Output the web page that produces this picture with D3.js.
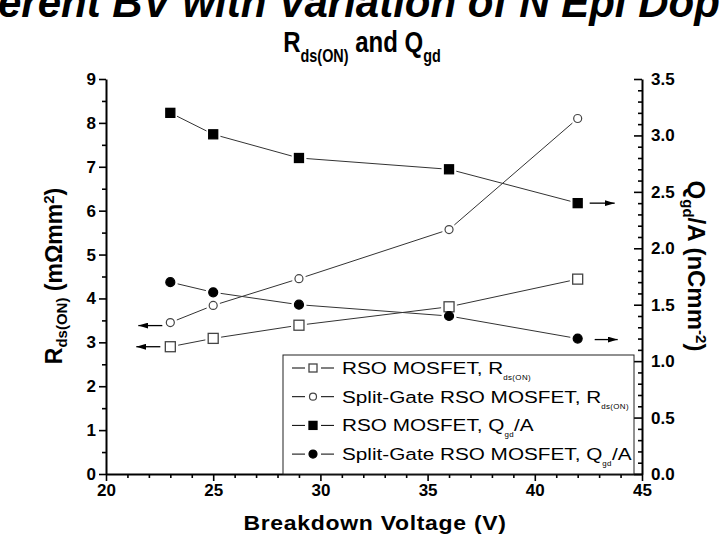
<!DOCTYPE html>
<html>
<head>
<meta charset="utf-8">
<script src="https://cdn.jsdelivr.net/npm/d3@7"></script>
<style>
  body { margin: 0; background: #fff; }
  svg { display: block; }
  text { font-family: "Liberation Sans", Arial, sans-serif; fill: #000; }
</style>
</head>
<body>
<div class="chart"></div>
<script>
  // values
  var bv = [23, 25, 29, 36, 42];
  var rsoRds = [2.90, 3.09, 3.39, 3.81, 4.44];
  var sgRds = [3.45, 3.84, 4.45, 5.57, 8.10];
  var rsoQgd = [3.20, 3.01, 2.80, 2.70, 2.40];
  var sgQgd = [1.70, 1.61, 1.50, 1.40, 1.20];

  var xTicks = [20, 25, 30, 35, 40, 45];
  var yLeftTicks = [0, 1, 2, 3, 4, 5, 6, 7, 8, 9];
  var yRightTicks = [0, 0.5, 1.0, 1.5, 2.0, 2.5, 3.0, 3.5];

  var width = 720, height = 535;
  var svg = d3.select(".chart").append("svg")
    .attr("width", width)
    .attr("height", height);

  var x = d3.scaleLinear().domain([20, 45]).range([106, 642]);
  var yL = d3.scaleLinear().domain([0, 9]).range([474, 79]);
  var yR = d3.scaleLinear().domain([0, 3.5]).range([474, 79]);

  // cropped slide heading
  var head = svg.append("text")
    .attr("y", 17)
    .style("font-size", "42px")
    .style("font-weight", "bold")
    .style("font-style", "italic")
    .text("Different BV with Variation of N Epi Doping");
  var off = head.node().getSubStringLength(0, 4);
  head.attr("x", -off - 2);

  // chart title
  var title = svg.append("text")
    .attr("transform", "translate(362,52) scale(0.8,1)")
    .attr("text-anchor", "middle")
    .style("font-size", "30px")
    .style("font-weight", "bold");
  title.append("tspan").text("R");
  title.append("tspan").attr("dy", 10).style("font-size", "18px").text("ds(ON)");
  title.append("tspan").attr("dy", -10).text(" and Q");
  title.append("tspan").attr("dy", 10).style("font-size", "18px").text("gd");

  // axes
  function styleAxis(g) {
    g.select(".domain").attr("stroke", "#000").attr("stroke-width", 2);
    g.selectAll(".tick line").attr("stroke", "#000").attr("stroke-width", 1.6);
    g.selectAll("text")
      .style("font-family", "'Liberation Sans', Arial, sans-serif")
      .style("font-size", "17px")
      .style("font-weight", "bold")
      .attr("fill", "#000");
  }

  svg.append("g").attr("transform", "translate(0,474)")
    .call(d3.axisBottom(x).tickValues(xTicks).tickSize(7).tickSizeOuter(0).tickPadding(3))
    .call(styleAxis);
  svg.append("g").attr("transform", "translate(0,474)")
    .call(d3.axisBottom(x).tickValues(d3.range(21, 45).filter(function(d) { return d % 5 !== 0; }))
      .tickSize(4).tickFormat(""))
    .call(styleAxis)
    .select(".domain").remove();

  svg.append("g").attr("transform", "translate(106,0)")
    .call(d3.axisLeft(yL).tickValues(yLeftTicks).tickSize(7).tickSizeOuter(0).tickPadding(3))
    .call(styleAxis);
  svg.append("g").attr("transform", "translate(106,0)")
    .call(d3.axisLeft(yL).tickValues(d3.range(0.5, 9, 1)).tickSize(4).tickFormat(""))
    .call(styleAxis)
    .select(".domain").remove();

  svg.append("g").attr("transform", "translate(642,0)")
    .call(d3.axisRight(yR).tickValues(yRightTicks).tickSize(-8).tickSizeOuter(0).tickPadding(9)
      .tickFormat(d3.format(".1f")))
    .call(styleAxis);
  svg.append("g").attr("transform", "translate(642,0)")
    .call(d3.axisRight(yR).tickValues(d3.range(1, 35).filter(function(d) { return d % 5 !== 0; })
      .map(function(d) { return d / 10; })).tickSize(-4).tickFormat(""))
    .call(styleAxis)
    .select(".domain").remove();

  // axis titles
  svg.append("text")
    .attr("transform", "translate(375,530) scale(1.15,1)")
    .attr("text-anchor", "middle")
    .style("font-size", "20px").style("font-weight", "bold")
    .style("letter-spacing", "0.6px")
    .text("Breakdown Voltage (V)");

  var lt = svg.append("text")
    .attr("transform", "translate(62,276) rotate(-90)")
    .attr("text-anchor", "middle")
    .style("font-size", "23px").style("font-weight", "bold");
  lt.append("tspan").text("R");
  lt.append("tspan").attr("baseline-shift", "-30%").style("font-size", "15px").text("ds(ON)");
  lt.append("tspan").text(" (m\u03A9mm");
  lt.append("tspan").attr("baseline-shift", "super").style("font-size", "15px").text("2");
  lt.append("tspan").text(")");

  var rt = svg.append("text")
    .attr("transform", "translate(688,266) rotate(90)")
    .attr("text-anchor", "middle")
    .style("font-size", "24px").style("font-weight", "bold");
  rt.append("tspan").text("Q");
  rt.append("tspan").attr("baseline-shift", "-30%").style("font-size", "15px").text("gd");
  rt.append("tspan").text("/A (nCmm");
  rt.append("tspan").attr("baseline-shift", "super").style("font-size", "15px").text("-2");
  rt.append("tspan").text(")");

  // series
  var series = [
    { name: "RSO MOSFET, ", sub: "ds(ON)", pre: "R", post: "", vals: rsoRds, y: yL, shape: "square", fill: "#fff", size: 10 },
    { name: "Split-Gate RSO MOSFET, ", sub: "ds(ON)", pre: "R", post: "", vals: sgRds, y: yL, shape: "circle", fill: "#fff", size: 8 },
    { name: "RSO MOSFET, ", sub: "gd", pre: "Q", post: "/A", vals: rsoQgd, y: yR, shape: "square", fill: "#000", size: 9 },
    { name: "Split-Gate RSO MOSFET, ", sub: "gd", pre: "Q", post: "/A", vals: sgQgd, y: yR, shape: "circle", fill: "#000", size: 9 }
  ];

  function marker(g, s, cx, cy) {
    if (s.shape === "square") {
      g.append("rect")
        .attr("x", cx - s.size / 2).attr("y", cy - s.size / 2)
        .attr("width", s.size).attr("height", s.size)
        .attr("fill", s.fill).attr("stroke", s.fill === "#fff" ? "#444" : "#000")
        .attr("stroke-width", 1.3);
    } else {
      g.append("circle")
        .attr("cx", cx).attr("cy", cy).attr("r", s.size / 2)
        .attr("fill", s.fill).attr("stroke", s.fill === "#fff" ? "#444" : "#000")
        .attr("stroke-width", 1.2);
    }
  }

  var plot = svg.append("g");
  series.forEach(function(s) {
    var pts = bv.map(function(d, i) { return [x(d), s.y(s.vals[i])]; });
    // segments with small gaps near the markers
    for (var i = 0; i < pts.length - 1; i++) {
      var a = pts[i], b = pts[i + 1];
      var dx = b[0] - a[0], dy = b[1] - a[1];
      var len = Math.sqrt(dx * dx + dy * dy);
      var gap = s.size / 2 + 3;
      plot.append("line")
        .attr("x1", a[0] + dx / len * gap).attr("y1", a[1] + dy / len * gap)
        .attr("x2", b[0] - dx / len * gap).attr("y2", b[1] - dy / len * gap)
        .attr("stroke", "#333").attr("stroke-width", 1);
    }
    pts.forEach(function(p) { marker(plot, s, p[0], p[1]); });
  });

  // arrows pointing to the axis each series belongs to
  var defs = svg.append("defs");
  defs.append("marker").attr("id", "ah")
    .attr("viewBox", "0 0 10 6").attr("refX", 10).attr("refY", 3)
    .attr("markerWidth", 10).attr("markerHeight", 6).attr("markerUnits", "userSpaceOnUse")
    .attr("orient", "auto")
    .append("path").attr("d", "M0,0L10,3L0,6Z").attr("fill", "#000");

  function arrow(x1, x2, yy) {
    svg.append("line")
      .attr("x1", x1).attr("y1", yy).attr("x2", x2).attr("y2", yy)
      .attr("stroke", "#000").attr("stroke-width", 1.3)
      .attr("marker-end", "url(#ah)");
  }
  arrow(x(bv[0]) - 8, x(bv[0]) - 32, yL(sgRds[0]) + 3);
  arrow(x(bv[0]) - 10, x(bv[0]) - 34, yL(rsoRds[0]));
  arrow(x(bv[4]) + 12, x(bv[4]) + 37, yR(rsoQgd[4]));
  arrow(x(bv[4]) + 17, x(bv[4]) + 40, yR(sgQgd[4]) + 1);

  // legend
  var lg = svg.append("g");
  lg.append("rect")
    .attr("x", 283).attr("y", 355).attr("width", 351).attr("height", 119)
    .attr("fill", "#fff").attr("stroke", "#222").attr("stroke-width", 1);
  series.forEach(function(s, i) {
    var cy = 368 + i * 28.7;
    lg.append("line").attr("x1", 292).attr("x2", 334).attr("y1", cy).attr("y2", cy)
      .attr("stroke", "#000").attr("stroke-width", 1);
    var ms = Object.assign({}, s, { size: s.shape === "circle" && s.fill === "#fff" ? 7 : 8 });
    lg.append("rect").attr("x", 305).attr("y", cy - 6).attr("width", 16).attr("height", 12).attr("fill", "#fff");
    marker(lg, ms, 313, cy);
    var t = lg.append("text")
      .attr("transform", "translate(342," + (cy + 6) + ") scale(1.22,1)")
      .style("font-size", "17px");
    t.append("tspan").text(s.name + s.pre);
    t.append("tspan").attr("dy", 6).style("font-size", "6.5px")
      .style("letter-spacing", "0.3px").text(s.sub);
    if (s.post) t.append("tspan").attr("dy", -6).text(s.post);
  });
</script>
</body>
</html>
